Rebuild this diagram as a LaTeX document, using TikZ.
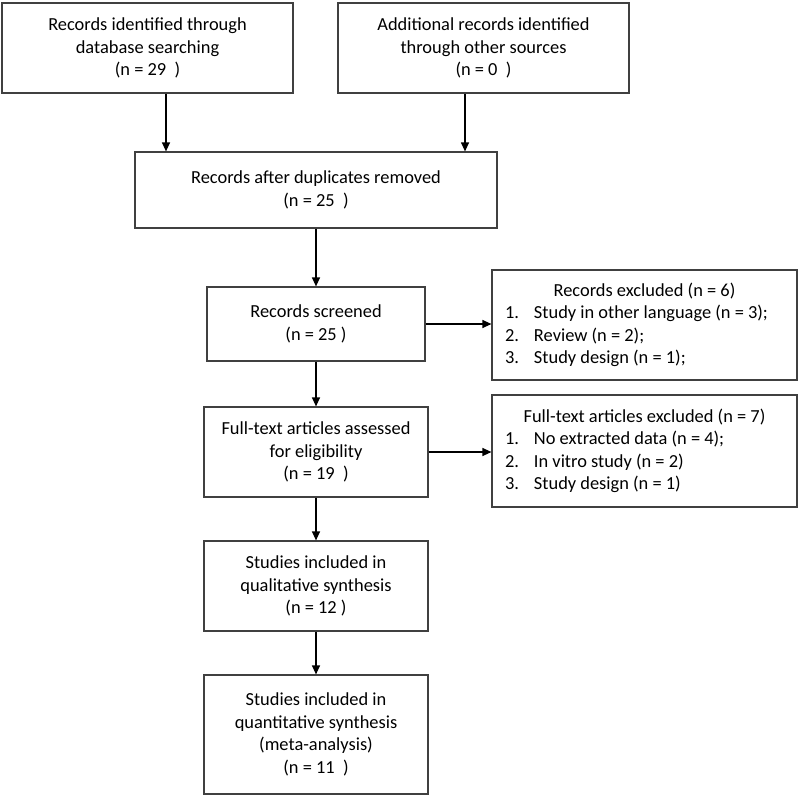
\documentclass[tikz,border=0pt]{standalone}
\usepackage{fontspec}
\setmainfont{Carlito}
\usepackage{tikz}
\usetikzlibrary{arrows.meta}

\newcommand{\itm}[1]{\makebox[29pt][l]{#1}}

\begin{document}
\begin{tikzpicture}[x=1pt,y=-1pt,-{Triangle[length=9pt,width=8pt]},line width=1.2pt,
  font=\fontsize{18.4}{22.5}\selectfont]
\tikzstyle{box}=[rectangle,draw=black!75,line width=1.2pt,align=center,inner sep=0pt]
\tikzstyle{side}=[box,text width=279pt,align=flush left]
\useasboundingbox (0,0) rectangle (800,798);
\node[box,minimum width=291pt,minimum height=90pt] (a) at (147.5,48) {Records identified through\\database searching\\(n = 29\ \ )};
\node[box,minimum width=291pt,minimum height=90pt] (b) at (483.5,48) {Additional records identified\\through other sources\\(n = 0\ \ )};
\node[box,minimum width=362pt,minimum height=76pt] (c) at (316,190) {Records after duplicates removed\\(n = 25\ \ )};
\node[box,minimum width=218pt,minimum height=74pt] (d) at (316,324) {Records screened\\(n = 25 )};
\node[side,minimum width=305pt,minimum height=110pt] (e) at (644.5,325) {{\centering Records excluded (n = 6)\par}
\itm{1.}Study in other language (n = 3);\\\itm{2.}Review (n = 2);\\\itm{3.}Study design (n = 1);};
\node[box,minimum width=224pt,minimum height=90pt] (f) at (316,452) {Full-text articles assessed\\for eligibility\\(n = 19\ \ )};
\node[side,minimum width=305pt,minimum height=112pt] (g) at (644.5,451) {{\centering Full-text articles excluded (n = 7)\par}
\itm{1.}No extracted data (n = 4);\\\itm{2.}In vitro study (n = 2)\\\itm{3.}Study design (n = 1)};
\node[box,minimum width=224pt,minimum height=90pt] (h) at (316,586) {Studies included in\\qualitative synthesis\\(n = 12 )};
\node[box,minimum width=224pt,minimum height=119pt] (i) at (316,734.5) {Studies included in\\quantitative synthesis\\(meta-analysis)\\(n = 11\ \ )};
\coordinate (a1) at ([xshift=18.5pt]a.south);
\coordinate (b1) at ([xshift=-18.5pt]b.south);
\draw (a1) -- (a1 |- c.north);
\draw (b1) -- (b1 |- c.north);
\draw (c) -- (d);
\draw (d.east) -- (d.east -| e.west);
\draw (d) -- (f);
\draw (f.east) -- (f.east -| g.west);
\draw (f) -- (h);
\draw (h) -- (i);
\end{tikzpicture}
\end{document}
